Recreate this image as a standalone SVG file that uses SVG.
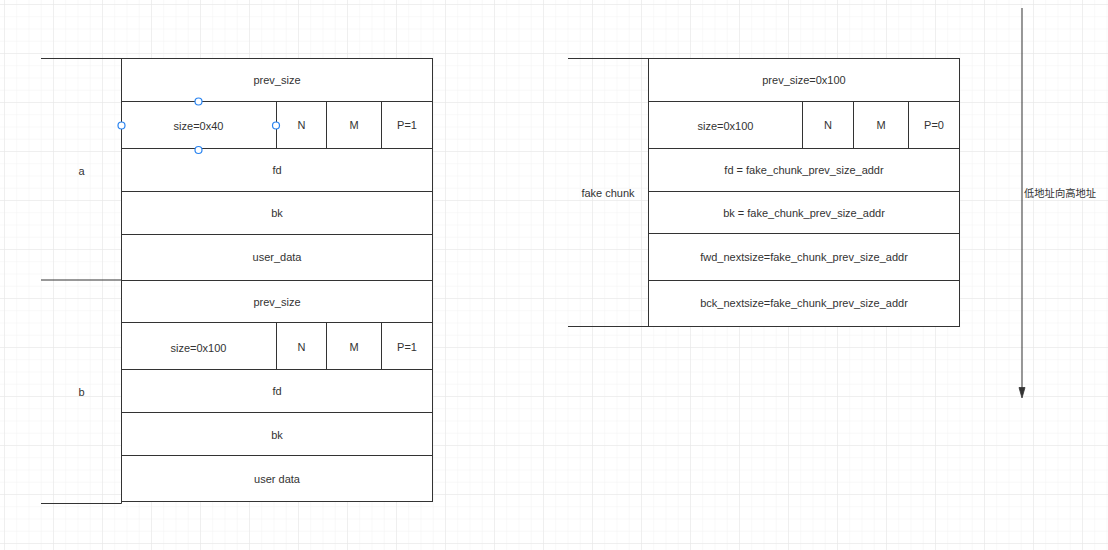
<svg xmlns="http://www.w3.org/2000/svg" width="1108" height="550" viewBox="0 0 1108 550">
<defs>
<pattern id="minor" x="4" y="4" width="12.25" height="12.25" patternUnits="userSpaceOnUse">
<path d="M0 0H12.25M0 0V12.25" fill="none" stroke="#f2f2f2" stroke-width="1"/>
</pattern>
<pattern id="major" x="4" y="4" width="49" height="49" patternUnits="userSpaceOnUse">
<path d="M0 0H49M0 0V49" fill="none" stroke="#e6e6e6" stroke-width="1"/>
</pattern>
<marker id="arrow" viewBox="0 0 6 10" refX="6" refY="3" markerWidth="6" markerHeight="10" orient="auto" markerUnits="userSpaceOnUse">
<path d="M0 0L6 3L0 6Z" fill="#333"/>
</marker>
</defs>
<style>
.c{fill:#fff;stroke:#333;stroke-width:1}
.t{font-family:"Liberation Sans","Noto Sans CJK SC",sans-serif;font-size:11px;fill:#333;text-anchor:middle;dominant-baseline:central}
.l{stroke:#333;stroke-width:1;fill:none}
.h{fill:#fff;stroke:#2a84f0;stroke-width:1.2}
</style>
<rect width="1108" height="550" fill="#fff"/>
<rect width="1108" height="550" fill="url(#minor)"/>
<rect width="1108" height="550" fill="url(#major)"/>

<g id="chunk-a">
<rect class="c" x="121.5" y="58.5" width="311" height="43"/>
<text class="t" x="277" y="80">prev_size</text>
<rect class="c" x="121.5" y="101.5" width="155" height="47"/>
<text class="t" x="198.5" y="126">size=0x40</text>
<rect class="c" x="276.5" y="101.5" width="50" height="47"/>
<text class="t" x="301.5" y="125">N</text>
<rect class="c" x="326.5" y="101.5" width="55" height="47"/>
<text class="t" x="354" y="125">M</text>
<rect class="c" x="381.5" y="101.5" width="51" height="47"/>
<text class="t" x="407" y="125">P=1</text>
<rect class="c" x="121.5" y="148.5" width="311" height="43"/>
<text class="t" x="277" y="170">fd</text>
<rect class="c" x="121.5" y="191.5" width="311" height="43"/>
<text class="t" x="277" y="213">bk</text>
<rect class="c" x="121.5" y="234.5" width="311" height="46"/>
<text class="t" x="277" y="257">user_data</text>
<path class="l" d="M41 58.5H121.5V280.5"/>
<text class="t" x="81.5" y="170.5">a</text>
</g>

<g id="chunk-b">
<rect class="c" x="121.5" y="280.5" width="311" height="42"/>
<text class="t" x="277" y="302">prev_size</text>
<rect class="c" x="121.5" y="322.5" width="155" height="47"/>
<text class="t" x="198.5" y="348">size=0x100</text>
<rect class="c" x="276.5" y="322.5" width="50" height="47"/>
<text class="t" x="301.5" y="347">N</text>
<rect class="c" x="326.5" y="322.5" width="55" height="47"/>
<text class="t" x="354" y="347">M</text>
<rect class="c" x="381.5" y="322.5" width="51" height="47"/>
<text class="t" x="407" y="347">P=1</text>
<rect class="c" x="121.5" y="369.5" width="311" height="43"/>
<text class="t" x="277" y="391">fd</text>
<rect class="c" x="121.5" y="412.5" width="311" height="43"/>
<text class="t" x="277" y="435">bk</text>
<rect class="c" x="121.5" y="455.5" width="311" height="46"/>
<text class="t" x="277" y="479">user  data</text>
<path class="l" d="M41 280H121.5" stroke-width="2"/>
<path class="l" d="M121.5 280.5V503.5H41"/>
<text class="t" x="81.5" y="391.5">b</text>
</g>

<g id="selection-handles">
<circle class="h" cx="198.5" cy="101.5" r="3.5"/>
<circle class="h" cx="121.5" cy="125.5" r="3.5"/>
<circle class="h" cx="276" cy="125.5" r="3.5"/>
<circle class="h" cx="198.5" cy="150" r="3.5"/>
</g>

<g id="fake-chunk">
<rect class="c" x="648.5" y="58.5" width="311" height="43"/>
<text class="t" x="804" y="80">prev_size=0x100</text>
<rect class="c" x="648.5" y="101.5" width="154" height="47"/>
<text class="t" x="725.5" y="126">size=0x100</text>
<rect class="c" x="802.5" y="101.5" width="51" height="47"/>
<text class="t" x="828" y="125">N</text>
<rect class="c" x="853.5" y="101.5" width="55" height="47"/>
<text class="t" x="881" y="125">M</text>
<rect class="c" x="908.5" y="101.5" width="51" height="47"/>
<text class="t" x="934" y="125">P=0</text>
<rect class="c" x="648.5" y="148.5" width="311" height="43"/>
<text class="t" x="804" y="170">fd = fake_chunk_prev_size_addr</text>
<rect class="c" x="648.5" y="191.5" width="311" height="42"/>
<text class="t" x="804" y="213">bk = fake_chunk_prev_size_addr</text>
<rect class="c" x="648.5" y="233.5" width="311" height="47"/>
<text class="t" x="804" y="257">fwd_nextsize=fake_chunk_prev_size_addr</text>
<rect class="c" x="648.5" y="280.5" width="311" height="46"/>
<text class="t" x="804" y="303">bck_nextsize=fake_chunk_prev_size_addr</text>
<path class="l" d="M568 58.5H648.5V326.5H568"/>
<text class="t" x="608" y="193">fake chunk</text>
</g>

<g id="connectors">
<path class="l" d="M1022 8V389"/>
<path d="M1019 387.5L1022 398L1025 387.5Z" fill="#333" stroke="#333" stroke-width="0.8"/>
<text class="t" x="1024" y="193" style="text-anchor:start;font-size:10.3px">低地址向高地址</text>
</g>
</svg>
